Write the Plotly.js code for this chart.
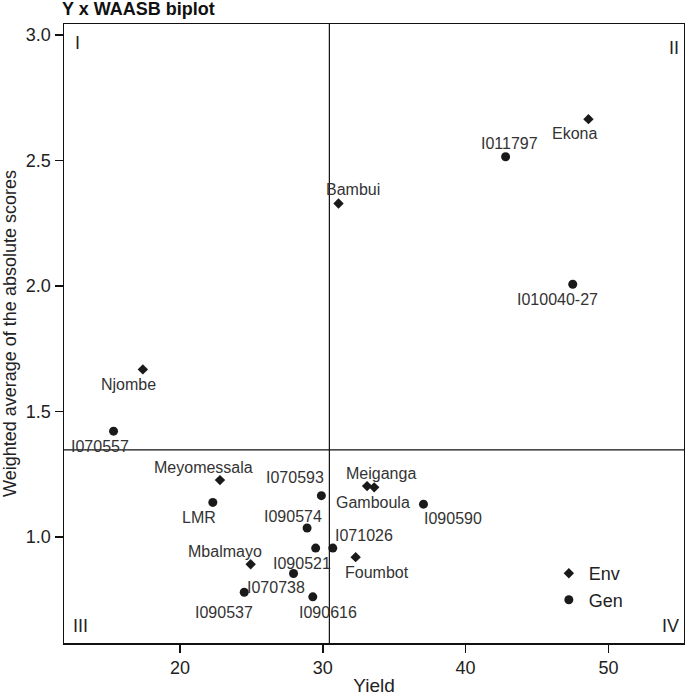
<!DOCTYPE html>
<html>
<head>
<meta charset="utf-8">
<script src="https://cdn.plot.ly/plotly-3.0.1.min.js"></script>
<style>html,body{margin:0;padding:0;background:#fff;}#chart{width:685px;height:696px;}</style>
</head>
<body>
<div id="chart"></div>
<script>
// Environments
const envNames = ["Ekona", "Bambui", "Njombe", "Meyomessala", "Meiganga", "Gamboula", "Foumbot", "Mbalmayo"];
const envYield = [48.6, 31.1, 17.4, 22.8, 33.1, 33.6, 32.3, 24.95];
const envWAASB = [2.665, 2.329, 1.668, 1.227, 1.203, 1.198, 0.920, 0.892];

// Genotypes
const genNames = ["I011797", "I010040-27", "I070557", "LMR", "I070593", "I090590", "I090574", "I090521", "I071026", "I070738", "I090537", "I090616"];
const genYield = [42.8, 47.5, 15.35, 22.3, 29.9, 37.05, 28.9, 29.5, 30.7, 27.95, 24.5, 29.3];
const genWAASB = [2.515, 2.007, 1.422, 1.138, 1.165, 1.131, 1.036, 0.956, 0.956, 0.855, 0.780, 0.762];

// Reference lines (means)
const meanYield = 30.46;
const meanWAASB = 1.347;

const quadrantLabels = ["I", "II", "III", "IV"];

// Label offsets in pixels [dx, dy(down)]
const envLabelOffsets = [[-14, 14], [14, -14], [-14, 15], [-16, -13], [14, -13], [-1, 15], [21, 15], [-26, -13]];
const genLabelOffsets = [[4, -13], [-15, 15], [-14, 15], [-14, 15], [-26, -18], [30, 14], [-14, -12], [-14, 15], [31, -13], [-18, 14], [-20, 20], [15, 16]];

const FONT = "Liberation Sans, Arial, sans-serif";
const TXT = "#222";

const traces = [
  {
    type: "scatter", mode: "markers", name: "Env",
    x: envYield, y: envWAASB,
    marker: {symbol: "diamond", size: 8, color: "#1a1a1a"},
    hoverinfo: "text", text: envNames
  },
  {
    type: "scatter", mode: "markers", name: "Gen",
    x: genYield, y: genWAASB,
    marker: {symbol: "circle", size: 9, color: "#1a1a1a"},
    hoverinfo: "text", text: genNames
  }
];

const annotations = [];
function addLabels(names, xs, ys, offs) {
  names.forEach((n, i) => {
    annotations.push({
      x: xs[i], y: ys[i], xref: "x", yref: "y", text: n, showarrow: false,
      xshift: offs[i][0], yshift: -offs[i][1],
      xanchor: "center", yanchor: "middle",
      font: {family: FONT, size: 16, color: "#333"}
    });
  });
}
addLabels(envNames, envYield, envWAASB, envLabelOffsets);
addLabels(genNames, genYield, genWAASB, genLabelOffsets);

const qPos = [[0.015, 0.988, "left", "top"], [0.995, 0.98, "right", "top"], [0.012, 0.008, "left", "bottom"], [0.995, 0.008, "right", "bottom"]];
quadrantLabels.forEach((q, i) => {
  annotations.push({
    xref: "paper", yref: "paper", x: qPos[i][0], y: qPos[i][1],
    xanchor: qPos[i][2], yanchor: qPos[i][3], text: q, showarrow: false,
    font: {family: FONT, size: 18, color: TXT}
  });
});

const layout = {
  width: 685, height: 696,
  margin: {l: 64, r: 1, t: 24, b: 53, pad: 0},
  paper_bgcolor: "#fff", plot_bgcolor: "#fff",
  font: {family: FONT, color: TXT},
  title: {
    text: "<b>Y x WAASB biplot</b>",
    xref: "container", yref: "container", x: 62/685, xanchor: "left",
    y: 0.988, yanchor: "middle", pad: {t: 0, b: 0, l: 0, r: 0},
    font: {family: FONT, size: 18, color: "#111"}
  },
  xaxis: {
    range: [11.88, 55.29], dtick: 10, tick0: 0,
    showgrid: false, zeroline: false,
    showline: true, mirror: true, linecolor: "#111", linewidth: 1.5,
    ticks: "outside", ticklen: 8, tickwidth: 1.5, tickcolor: "#111",
    tickfont: {family: FONT, size: 18, color: TXT},
    title: {text: "Yield", font: {family: FONT, size: 19, color: TXT}, standoff: 5}
  },
  yaxis: {
    range: [0.578, 3.044], dtick: 0.5, tick0: 0, tickformat: ".1f",
    showgrid: false, zeroline: false,
    showline: true, mirror: true, linecolor: "#111", linewidth: 1.5,
    ticks: "outside", ticklen: 8, tickwidth: 1.5, tickcolor: "#111",
    tickfont: {family: FONT, size: 18, color: TXT},
    title: {text: "Weighted average of the absolute scores", font: {family: FONT, size: 18, color: TXT}, standoff: 7}
  },
  shapes: [
    {type: "line", xref: "x", yref: "paper", x0: meanYield, x1: meanYield, y0: 0, y1: 1, line: {color: "#111", width: 1.2}},
    {type: "line", xref: "paper", yref: "y", x0: 0, x1: 1, y0: meanWAASB, y1: meanWAASB, line: {color: "#111", width: 1.2}}
  ],
  legend: {
    x: 0.782, y: 0.142, xanchor: "left", yanchor: "top",
    bgcolor: "rgba(0,0,0,0)", borderwidth: 0,
    font: {family: FONT, size: 18, color: TXT},
    tracegroupgap: 0
  },
  showlegend: true,
  annotations: annotations
};

Plotly.newPlot("chart", traces, layout, {displayModeBar: false, staticPlot: true});
</script>
</body>
</html>
